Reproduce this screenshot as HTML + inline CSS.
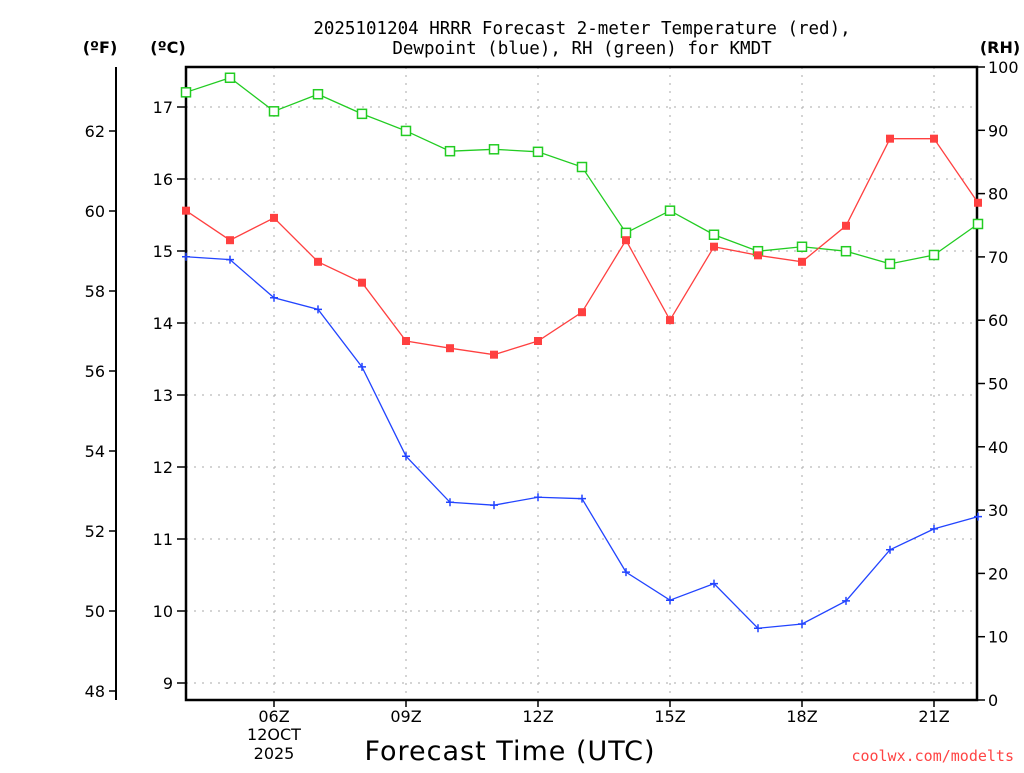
<!DOCTYPE html>
<html><head><meta charset="utf-8"><style>
body{margin:0;background:#fff;}
svg text{font-family:"DejaVu Sans","Liberation Sans",sans-serif;}
</style></head><body>
<svg id="c" width="1024" height="768" xmlns="http://www.w3.org/2000/svg">
<text x="582" y="34" text-anchor="middle" font-size="17.5" style="font-family:'DejaVu Sans Mono',monospace" fill="#000">2025101204 HRRR Forecast 2-meter Temperature (red),</text>
<text x="582" y="54" text-anchor="middle" font-size="17.5" style="font-family:'DejaVu Sans Mono',monospace" fill="#000">Dewpoint (blue), RH (green) for KMDT</text>
<text x="100" y="53" text-anchor="middle" font-size="16" font-weight="bold">(ºF)</text>
<text x="168" y="53" text-anchor="middle" font-size="16" font-weight="bold">(ºC)</text>
<text x="1000" y="53" text-anchor="middle" font-size="16" font-weight="bold">(RH)</text>
<text x="510" y="760" text-anchor="middle" font-size="27" letter-spacing="1">Forecast Time (UTC)</text>
<text x="1014" y="761" text-anchor="end" font-size="15" fill="#ff4444" style="font-family:'DejaVu Sans Mono',monospace">coolwx.com/modelts</text>
<g id="g"></g>
</svg>
<script>
const hours=[4,5,6,7,8,9,10,11,12,13,14,15,16,17,18,19,20,21,22];
const tempC=[15.56,15.15,15.46,14.85,14.56,13.75,13.65,13.56,13.75,14.15,15.15,14.04,15.06,14.94,14.85,15.35,16.56,16.56,15.67];
const dewC=[14.92,14.88,14.35,14.19,13.39,12.15,11.51,11.47,11.58,11.56,10.54,10.15,10.38,9.76,9.82,10.14,10.85,11.14,11.31];
const rh=[96,98.3,93,95.7,92.6,89.9,86.7,87,86.6,84.2,73.8,77.3,73.5,70.9,71.6,70.9,68.9,70.3,75.2];
const cTicks=[9,10,11,12,13,14,15,16,17];
const fTicks=[48,50,52,54,56,58,60,62];
const rhTicks=[0,10,20,30,40,50,60,70,80,90,100];
const xTicks=[6,9,12,15,18,21];
const xLabels=["06Z","09Z","12Z","15Z","18Z","21Z"];

const L=186,R=977,T=67,B=700;
const x=h=>274+(h-6)*44;
const yC=c=>107+(17-c)*72;
const yF=f=>yC((f-32)*5/9);
const yR=r=>B-r*(B-T)/100;
const g=document.getElementById('g');
const NS='http://www.w3.org/2000/svg';
function mk(t,a,p){const e=document.createElementNS(NS,t);for(const k in a)e.setAttribute(k,a[k]);(p||g).appendChild(e);return e;}

cTicks.forEach(c=>{
 const l=mk('line',{x1:L,x2:R,y1:yC(c),y2:yC(c),stroke:'#aaa','stroke-dasharray':'2,6'});
 
 
 mk('line',{x1:L-9,x2:L,y1:yC(c),y2:yC(c),stroke:'#000','stroke-width':1.5});
 const t=mk('text',{x:L-13,y:yC(c)+6,'text-anchor':'end','font-size':16});
 t.textContent=c;
 
 
});
xTicks.forEach((h,i)=>{
 const l=mk('line',{x1:x(h),x2:x(h),y1:T,y2:B,stroke:'#aaa','stroke-dasharray':'2,6'});
 
 
 mk('line',{x1:x(h),x2:x(h),y1:B,y2:B+7,stroke:'#000','stroke-width':1.5});
 const t=mk('text',{x:x(h),y:B+22,'text-anchor':'middle','font-size':16});
 t.textContent=xLabels[i];
 
 
});
[["12OCT",740],["2025",759]].forEach(a=>{
 const t=mk('text',{x:x(6),y:a[1],'text-anchor':'middle','font-size':16});
 t.textContent=a[0];
 
 
});
const fa=mk('line',{x1:116,x2:116,y1:T,y2:B,stroke:'#000','stroke-width':2});


fTicks.forEach(f=>{
 mk('line',{x1:109,x2:116,y1:yF(f),y2:yF(f),stroke:'#000','stroke-width':1.5});
 const t=mk('text',{x:105,y:yF(f)+6,'text-anchor':'end','font-size':16});
 t.textContent=f;
 
 
});
rhTicks.forEach(r=>{
 mk('line',{x1:R,x2:R+8,y1:yR(r),y2:yR(r),stroke:'#000','stroke-width':1.5});
 const t=mk('text',{x:R+11,y:yR(r)+6,'font-size':16});
 t.textContent=r;
 
 
});
const fr=mk('rect',{x:L,y:T,width:R-L,height:B-T,fill:'none',stroke:'#000','stroke-width':2.5});



function series(vals,yf,col,name,marker){
 const pts=vals.map((v,i)=>[x(hours[i]),yf(v)]);
 const p=mk('polyline',{points:pts.map(q=>q.join(',')).join(' '),fill:'none',stroke:col,'stroke-width':1.3});
 
 
 pts.forEach(q=>{
  let m;
  if(marker==='fill'){m=mk('rect',{x:q[0]-4,y:q[1]-4,width:8,height:8,fill:col});}
  else if(marker==='open'){m=mk('rect',{x:q[0]-4.5,y:q[1]-4.5,width:9,height:9,fill:'#fff',stroke:col,'stroke-width':1.5});}
  else{m=mk('path',{d:`M${q[0]-4},${q[1]}h8M${q[0]},${q[1]-4}v8`,stroke:col,'stroke-width':1.5});}
  
  
 });
}
series(rh,yR,'#22cc22','rh','open');
series(tempC,yC,'#ff4040','temperature','fill');
series(dewC,yC,'#2244ff','dewpoint','plus');
</script>
</body></html>
